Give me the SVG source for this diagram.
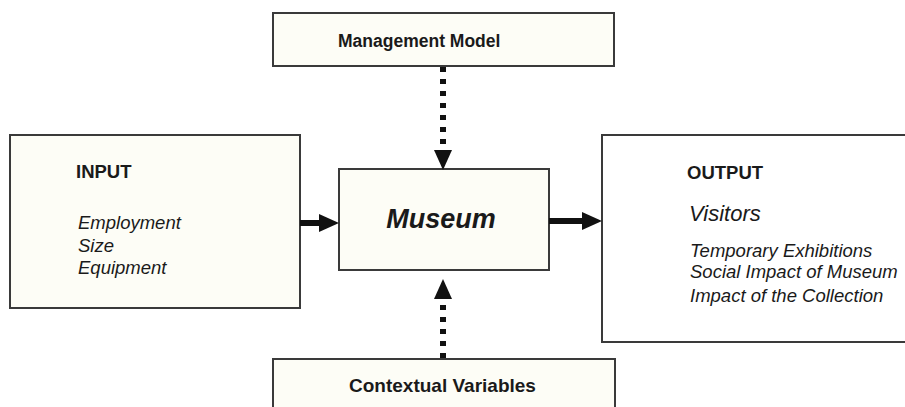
<svg xmlns="http://www.w3.org/2000/svg" width="905" height="407" viewBox="0 0 905 407">
<style>
.box{fill:#fdfdf6;stroke:#3a3a3a;stroke-width:2}
.wbox{fill:#ffffff;stroke:#3a3a3a;stroke-width:2}
.t{font-family:"Liberation Sans",Arial,sans-serif;fill:#1a1a1a}
.b{font-weight:bold}
.i{font-style:italic}
.solid{stroke:#111;stroke-width:6;fill:none}
.dot{stroke:#111;stroke-width:6;fill:none;stroke-dasharray:5 7}
</style>
<defs>
<marker id="headH" markerUnits="userSpaceOnUse" markerWidth="20" markerHeight="20" viewBox="0 0 20 20" refX="0" refY="10" orient="auto">
<path d="M0,1 L20,10 L0,19 Z" fill="#111"/>
</marker>
</defs>
<g id="management">
<rect class="box" x="273" y="13" width="341" height="53"/>
<text class="t b" x="338" y="47" font-size="17.5">Management Model</text>
</g>
<g id="input">
<rect class="box" x="10" y="135" width="290" height="173"/>
<text class="t b" x="76" y="178" font-size="18.5">INPUT</text>
<text class="t i" x="78" y="229" font-size="18.5">Employment</text>
<text class="t i" x="78" y="252" font-size="18.5">Size</text>
<text class="t i" x="78" y="274" font-size="18.5">Equipment</text>
</g>
<g id="museum">
<rect class="box" x="339" y="169" width="210" height="101"/>
<text class="t b i" x="441" y="228" font-size="27" text-anchor="middle">Museum</text>
</g>
<g id="output">
<rect class="wbox" x="602" y="135" width="310" height="207"/>
<text class="t b" x="687" y="179" font-size="18.5">OUTPUT</text>
<text class="t i" x="689" y="221" font-size="22">Visitors</text>
<text class="t i" x="690" y="257" font-size="18.5">Temporary Exhibitions</text>
<text class="t i" x="690" y="278" font-size="18.5">Social Impact of Museum</text>
<text class="t i" x="690" y="302" font-size="18.5">Impact of the Collection</text>
</g>
<g id="contextual">
<rect class="box" x="273" y="359" width="342" height="60"/>
<text class="t b" x="349" y="392" font-size="19">Contextual Variables</text>
</g>
<g id="connectors">
<line class="solid" x1="300" y1="223" x2="319" y2="223" marker-end="url(#headH)"/>
<line class="solid" x1="549" y1="221" x2="582" y2="221" marker-end="url(#headH)"/>
<line class="dot" x1="443" y1="67" x2="443" y2="150" marker-end="url(#headH)"/>
<line class="dot" x1="443" y1="358" x2="443" y2="299" marker-end="url(#headH)"/>
</g>
</svg>
